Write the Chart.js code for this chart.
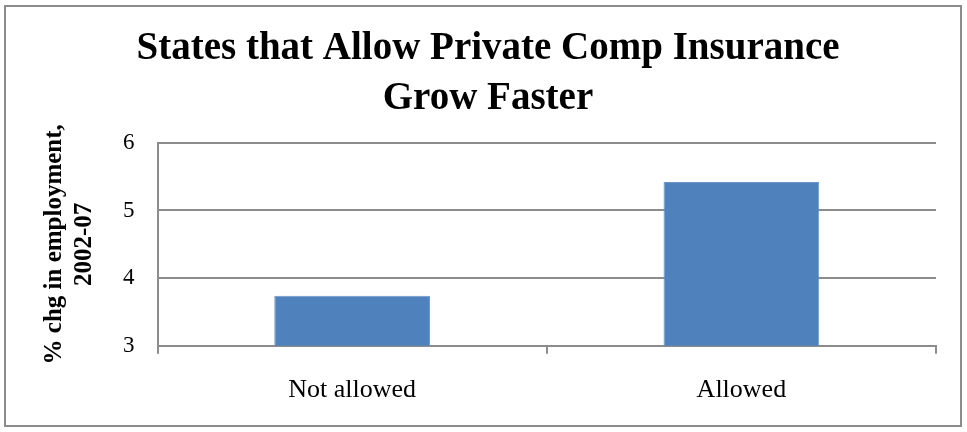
<!DOCTYPE html>
<html>
<head>
<meta charset="utf-8">
<script src="https://cdn.jsdelivr.net/npm/chart.js@4"></script>
<style>
  html, body { margin: 0; padding: 0; background: #fff; }
  #wrap { width: 967px; height: 432px; }
</style>
</head>
<body>
<div id="wrap"><canvas id="chart" width="967" height="432"></canvas></div>
<script>
const categories = ['Not allowed', 'Allowed'];
const empGrowth = [3.74, 5.42];
const yTicks = [3, 4, 5, 6];

const serif = "'Liberation Serif', 'Times New Roman', serif";

// gray frame round the whole chart
const frame = {
  id: 'frame',
  afterDraw(chart) {
    const ctx = chart.ctx;
    ctx.save();
    ctx.strokeStyle = '#8c8c8c';
    ctx.lineWidth = 2;
    ctx.strokeRect(5, 6, chart.width - 11, chart.height - 12);
    ctx.restore();
  }
};

const ctx = document.getElementById('chart');
new Chart(ctx, {
  type: 'bar',
  data: {
    labels: categories,
    datasets: [{
      data: empGrowth,
      backgroundColor: '#4f81bd',
      borderColor: '#6d97c9',
      borderWidth: 1,
      borderSkipped: 'bottom',
      barPercentage: 0.8,
      categoryPercentage: 0.5
    }]
  },
  options: {
    responsive: false,
    animation: false,
    layout: { padding: { left: 40, right: 31, top: 24, bottom: 5 } },
    scales: {
      y: {
        min: yTicks[0],
        max: yTicks[yTicks.length - 1],
        afterBuildTicks: (axis) => { axis.ticks = yTicks.map(v => ({ value: v })); },
        border: { color: '#8c8c8c', width: 2 },
        grid: { color: '#8c8c8c', lineWidth: 2, drawTicks: false, tickLength: 0 },
        ticks: { color: '#000', font: { family: serif, size: 23 }, padding: 23 },
        title: {
          display: true,
          text: ['% chg in employment,', '2002-07'],
          color: '#000',
          font: { family: serif, size: 25, weight: 'bold', lineHeight: 1.2 },
          padding: 0
        }
      },
      x: {
        border: { color: '#8c8c8c', width: 2 },
        grid: { color: '#8c8c8c', lineWidth: 2, drawOnChartArea: false, tickLength: 8 },
        ticks: { color: '#000', font: { family: serif, size: 26 }, padding: 21 }
      }
    },
    plugins: {
      legend: { display: false },
      tooltip: { enabled: false },
      title: {
        display: true,
        text: ['States that Allow Private Comp Insurance', 'Grow Faster'],
        color: '#000',
        font: { family: serif, size: 39, weight: 'bold', lineHeight: 1.28 },
        padding: { top: 0, bottom: 19 }
      }
    }
  },
  plugins: [frame]
});
</script>
</body>
</html>
